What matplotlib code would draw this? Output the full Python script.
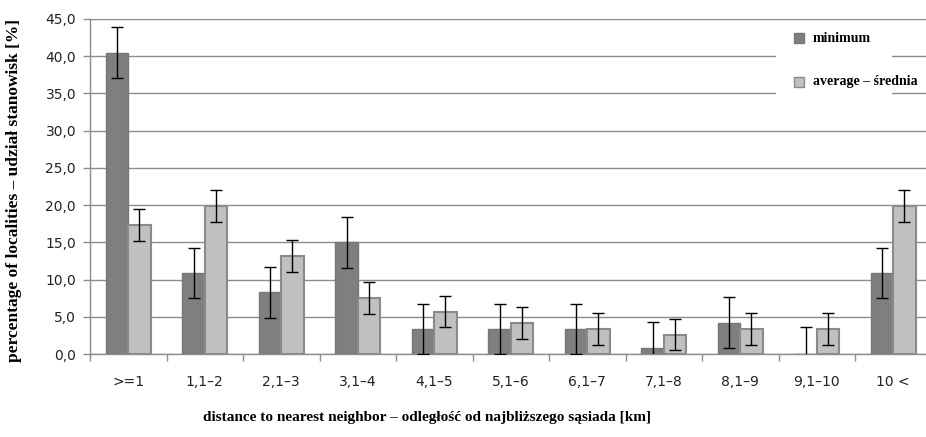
import matplotlib.pyplot as plt
import numpy as np
from matplotlib.patches import Rectangle
from matplotlib.ticker import FixedLocator

# distance classes [km]
classes = ['>=1', '1,1–2', '2,1–3', '3,1–4', '4,1–5', '5,1–6',
           '6,1–7', '7,1–8', '8,1–9', '9,1–10', '10 <']

# share of localities [%] with error ranges
minimum = [40.5, 10.9, 8.3, 15.0, 3.4, 3.4, 3.4, 0.8, 4.2, 0.0, 10.9]
minimum_err = [3.45, 3.4, 3.45, 3.4, 3.35, 3.35, 3.35, 3.5, 3.45, 3.6, 3.4]
average = [17.3, 19.9, 13.2, 7.5, 5.7, 4.2, 3.4, 2.6, 3.4, 3.4, 19.9]
average_err = [2.15, 2.15, 2.15, 2.15, 2.1, 2.15, 2.15, 2.05, 2.15, 2.15, 2.15]
series_names = ['minimum', 'average – średnia']

dark = '#7f7f7f'
light = '#c0c0c0'
grid_col = '#8c8c8c'

fig = plt.figure(figsize=(9.26, 4.37), dpi=100)
ax = fig.add_axes([90 / 926, 1 - 354 / 437, 841.5 / 926, 335 / 437])

x = np.arange(len(classes))
w = 0.294
ax.bar(x - w / 2, minimum, w, color=dark, edgecolor='#777777', linewidth=1.0, zorder=3)
ax.bar(x + w / 2, average, w, color=light, edgecolor='#8a8a8a', linewidth=1.5, zorder=3)
ax.errorbar(x - w / 2, minimum, yerr=minimum_err, fmt='none', ecolor='black',
            elinewidth=1.0, capsize=4, capthick=1.0, zorder=4)
ax.errorbar(x + w / 2, average, yerr=average_err, fmt='none', ecolor='black',
            elinewidth=1.0, capsize=4, capthick=1.0, zorder=4)

ax.set_xlim(-0.5, len(classes) - 0.5)
ax.set_ylim(0, 45)
ax.set_yticks(np.arange(0, 46, 5))
ax.set_yticklabels([f'{v:.1f}'.replace('.', ',') for v in np.arange(0, 46, 5)])
ax.yaxis.grid(True, color=grid_col, linewidth=1.0, zorder=0)
ax.set_axisbelow(True)

# labels centred under groups, tick marks between groups
ax.set_xticks(x)
ax.set_xticklabels(classes)
ax.xaxis.set_minor_locator(FixedLocator(np.arange(-0.5, len(classes), 1.0)))
ax.tick_params(axis='x', which='major', length=0, pad=15, labelsize=10, labelcolor='#222222')
ax.tick_params(axis='x', which='minor', length=5, color=grid_col, width=1.0)
ax.tick_params(axis='y', length=5, color=grid_col, width=1.0, labelsize=10,
               labelcolor='#222222', pad=5)

for side in ['top', 'right']:
    ax.spines[side].set_visible(False)
for side in ['left', 'bottom']:
    ax.spines[side].set_color(grid_col)
    ax.spines[side].set_linewidth(1.0)

serif = {'family': 'Liberation Serif', 'weight': 'bold'}
fig.text(14 / 926, 1 - 190 / 437, 'percentage of localities – udział stanowisk [%]',
         rotation=90, ha='center', va='center', fontsize=12.5, **serif)
fig.text(427 / 926, 1 - 418 / 437,
         'distance to nearest neighbor – odległość od najbliższego sąsiada [km]',
         ha='center', va='center', fontsize=11, **serif)

# legend: white panel over the grid, text may run past it
ax.add_patch(Rectangle((776, 437 - 100), 116, 76, transform=None,
                       facecolor='white', edgecolor='none', zorder=2))
for i, (name, col, ec) in enumerate(zip(series_names, [dark, light],
                                        ['#777777', '#8a8a8a'])):
    yc = 437 - (38 + 44 * i)
    ax.add_patch(Rectangle((794, yc - 5), 10, 10, transform=None,
                           facecolor=col, edgecolor=ec, linewidth=1.0, zorder=5))
    fig.text(813 / 926, yc / 437, name, ha='left', va='center',
             fontsize=10, **serif)

fig.savefig('out.png', dpi=100)
